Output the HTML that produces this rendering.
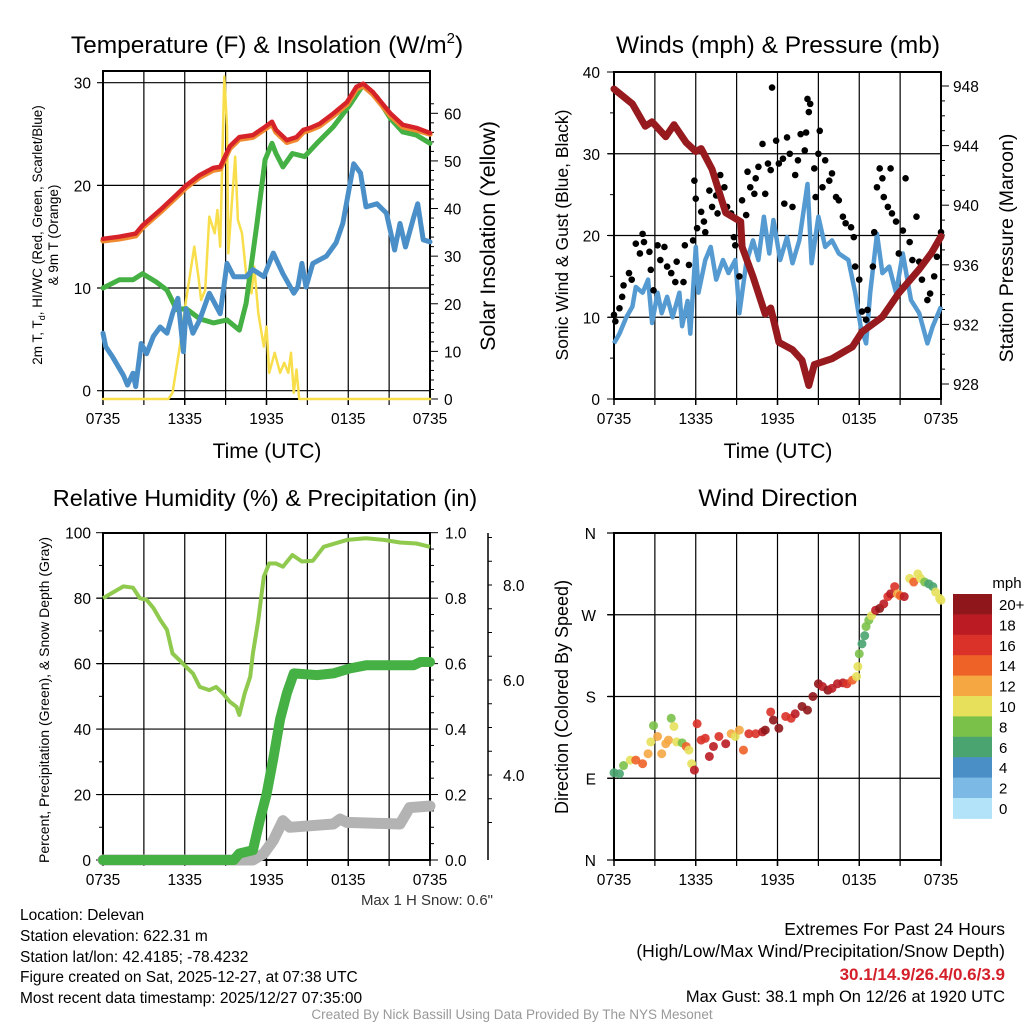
<!DOCTYPE html>
<html><head><meta charset="utf-8">
<style>
html,body{margin:0;padding:0;background:#fff;}
body{width:1024px;height:1024px;overflow:hidden;font-family:"Liberation Sans",sans-serif;}
svg text{font-family:"Liberation Sans",sans-serif;fill:#000;}
</style></head>
<body>
<svg id="chart" width="1024" height="1024" viewBox="0 0 1024 1024" xmlns="http://www.w3.org/2000/svg">
<g id="p1"></g>
<g id="p2"></g>
<g id="p3"></g>
<g id="p4"></g>
<g id="info">
<text x="20" y="920" font-size="15.5">Location: Delevan</text>
<text x="20" y="941" font-size="15.5">Station elevation: 622.31 m</text>
<text x="20" y="962" font-size="15.5">Station lat/lon: 42.4185; -78.4232</text>
<text x="20" y="982" font-size="15.5">Figure created on Sat, 2025-12-27, at 07:38 UTC</text>
<text x="20" y="1003" font-size="15.5">Most recent data timestamp: 2025/12/27 07:35:00</text>
<text x="1005" y="935" font-size="17.5" text-anchor="end">Extremes For Past 24 Hours</text>
<text x="1005" y="957" font-size="17.5" text-anchor="end">(High/Low/Max Wind/Precipitation/Snow Depth)</text>
<text x="1005" y="980" font-size="17" font-weight="bold" text-anchor="end" style="fill:#d4202a">30.1/14.9/26.4/0.6/3.9</text>
<text x="1005" y="1002" font-size="16.5" text-anchor="end">Max Gust: 38.1 mph On 12/26 at 1920 UTC</text>
<text x="512" y="1019" font-size="13.5" text-anchor="middle" style="fill:#999">Created By Nick Bassill Using Data Provided By The NYS Mesonet</text>
<text x="493" y="905" font-size="15" text-anchor="end" style="fill:#333">Max 1 H Snow: 0.6"</text>
</g>
</svg>
<script>
// ---------- data ----------
const xTickLabels = ["0735","1335","1935","0135","0735"];
// Panel 1
const tT = [0,1.2,2.4,2.9,4.2,5.4,6.1,7.1,8.1,8.6,9.3,10,11,11.9,12.4,12.7,13.5,14.2,14.7,15.2,15.9,16.9,17.9,18.6,19.1,19.8,21.1,22,23,24];
const tempV = [14.8,15,15.3,16.1,17.6,19.1,20,21,21.7,21.8,23.8,24.7,24.9,25.7,26.2,25.4,24.4,24.7,25.4,25.6,26,27,28.1,29.6,29.9,29.1,27,25.9,25.6,25.1];
const temp9V = [14.6,14.8,15.1,15.9,17.4,18.9,19.8,20.8,21.5,21.6,23.6,24.5,24.7,25.5,26,25.2,24.2,24.5,25.2,25.4,25.8,26.8,27.9,29.4,29.7,28.9,26.8,25.7,25.4,25];
const tHW = [0,1.2,2.2,2.9,3.9,4.7,5.4,6.1,7.1,8.1,9.1,10,10.5,11.3,11.9,12.4,12.7,13.2,13.9,14.8,15.7,16.9,18.1,19.1,20.1,21.1,22,23,24];
const hiwcV = [10,10.8,10.8,11.4,10.6,9.8,7.9,8,7,6.6,6.9,5.9,8.5,16.3,22.5,24.1,23.1,21.8,23.1,22.8,24.1,25.7,27.8,29.8,28.6,26.5,25.2,24.9,24.1];
const tTd = [0,0.2,0.7,1.5,1.8,2.2,2.4,2.8,3.2,3.7,4.2,4.7,5.1,5.5,5.9,6.1,6.6,7.1,7.8,8.6,9.1,9.6,10.5,11,11.8,12.5,13.2,14,14.3,14.6,14.9,15.4,16.4,17.1,17.6,18.4,18.9,19.3,20.1,20.8,21.4,21.8,22.2,22.8,23.1,23.5,24];
const dewV = [5.6,4.3,3.3,1.5,0.55,1.7,0.4,4.6,3.6,5.3,6.2,5.6,7.5,9,3.8,8,5.6,6.9,9.5,7.5,12.4,11.1,11.1,11.8,11.1,13.4,11.4,9.5,10.1,12.4,10.1,12.4,13.1,14.4,16.3,22.1,21.2,17.9,18.2,17.3,13.7,16.3,14,16.9,18.2,14.7,14.5];
const tSol = [0,4.8,5.1,5.6,6.1,6.4,6.7,7,7.2,7.5,7.8,8.2,8.4,8.6,8.9,9.1,9.2,9.4,9.7,9.9,10.2,10.5,10.9,11.1,11.4,11.8,12,12.2,12.6,13,13.3,13.6,13.8,14,14.2,14.4,24];
const solarV = [0,0,1.3,10.3,20.8,26.4,32,25.7,20.8,22.9,38.3,34.8,39.7,32,67.7,57.2,30.6,39,50.9,37.6,34.8,26.4,22.2,27.8,18,11,15.2,5.5,9.7,5.5,7.6,5.5,9.7,1.3,6.2,0,0];
// Panel 2
const tP = [0,1.35,2.3,2.8,3.8,4.4,5.3,6,6.4,7.2,8.2,9.3,9.4,10.2,11.1,11.5,12.1,13.1,13.8,14.3,14.7,16,17.5,18.2,19.7,20.9,22.4,23.3,24];
const presV = [947.8,946.8,945.3,945.6,944.6,945.4,944.2,943.6,943.8,942.4,939.5,938.9,937.2,935.2,932.7,933.1,930.8,930.3,929.6,927.9,929.3,929.7,930.5,931.5,932.5,934.1,935.7,936.8,937.9];
const tW = [0,0.4,0.9,1.35,1.6,2.1,2.5,2.8,3.2,3.5,3.9,4.3,4.8,5,5.4,5.6,6,6.2,6.7,7.1,7.5,8,8.4,8.9,9.2,9.7,10.2,10.6,11,11.4,11.7,12.2,12.7,13.1,13.6,14.2,14.5,15,15.5,16,16.5,17.2,17.7,18.1,18.5,18.8,19.3,19.7,20.2,20.7,21.2,21.8,22.4,23,23.4,24];
const windV = [6.8,8,10,11.3,13.7,13,14.6,9.3,13,10.5,12.5,10,13,8.9,12,8,18.6,13,17,18.6,14.6,17,15.4,17,10.5,16.6,19.4,17,22.3,17.8,21.9,17,19.8,16.6,19.4,26.3,16.6,22.3,18.6,19.4,17.8,17,13,8.9,6.8,13,20.2,15.4,16.2,13,17.8,12.1,10.5,6.8,8.9,11.3];
const tG = [0,0.1,0.4,0.6,0.7,1.1,1.3,1.6,2.1,1.9,2.2,2.6,2.7,2.9,3.2,3.4,3.7,3.9,4.2,4.5,4.6,5.1,5.2,5.5,5.8,5.9,6,6.1,6.4,6.6,6.7,7,7.2,7.5,7.6,7.8,8.1,8.3,8.6,8.8,8.9,9.2,9.4,9.7,9.8,10,10.3,10.4,10.6,10.9,11.1,11.3,11.5,11.6,11.9,12.1,12.4,12.5,12.7,12.9,13.1,13.3,13.5,13.7,14,14.1,14.2,14.3,14.4,14.7,14.8,15,15.1,15.3,15.5,15.8,16,16.3,16.5,16.8,17,17.4,17.6,17.7,18,18.2,18.5,18.6,19,19.1,19.3,19.5,19.7,19.8,20.1,20.3,20.4,20.7,20.9,21.2,21.4,21.7,21.9,22.2,22.4,22.6,23,23.2,23.5,23.7,24];
const gustV = [10.3,9.5,11.1,12.5,13.9,15.4,14.6,19,20.2,17.8,19.2,18,15.8,13.3,18.8,17,18.6,16.2,15.4,14.3,16.8,14.3,18.8,16.4,19.4,26.7,24.5,20.9,22.9,21.7,20.4,25.5,23.5,24.9,22.7,27.4,25.9,23.5,22.7,19.8,18.8,15,24.3,22.5,27.8,25.9,25.1,27,28.4,31.2,25.1,28.8,28,38.1,31.6,28.8,29.4,23.9,32,30,23.5,27.4,29.2,32.4,30.4,32.6,36.7,35.1,36.1,28.2,24.7,30,32.8,25.9,29.2,26.7,27.6,24.7,24.3,22.3,21.5,21,19.8,16.2,14.6,10.7,9.7,10.9,16.2,20.4,25.9,28.2,27,24.7,23.5,28.2,22.7,21.7,17.8,20.6,27,19.2,17,22.3,16.8,14.6,12.1,12.9,15,17.4,20.4];
// Panel 3
const tRH = [0,1.5,2.2,2.7,3.2,3.7,4.2,4.7,5.1,5.6,6.1,6.6,7.1,7.8,8.3,8.8,9.3,9.8,10,10.4,10.8,11,11.4,11.8,12.2,12.7,13.2,13.9,14.6,15.4,16.2,17.9,19.3,20.6,21.8,23,24];
const rhV = [80,83.6,83.2,80,79.5,77,73.4,70.3,63.1,61.1,59,57,52.9,51.9,52.9,50.9,48.4,46.8,44.3,50.9,56,63.1,73.3,86.6,90.6,90.6,89.6,93.2,91.2,91.4,95.7,97.8,98.3,97.8,97,96.7,95.7];
const tPr = [0,9.6,10,11,11.5,12,12.5,13,13.5,14,15.7,16.9,18.1,19.3,22.8,23.3,24];
const precipV = [0,0,0.02,0.03,0.12,0.2,0.31,0.43,0.51,0.57,0.565,0.57,0.585,0.595,0.595,0.605,0.605];
const tSn = [0,11,11.8,12.5,13.2,13.7,16.9,17.4,17.9,21.8,22.5,24];
const snowV = [0,0,2,6,12,10,11,12.5,11.5,11,16,16.5];
// Panel 4
const tD = [0,0.4,0.7,1.2,1.6,2.1,2.5,2.7,2.9,3.2,3.5,3.8,4,4.2,4.4,4.6,5,5.3,5.5,5.7,5.9,6.1,6.4,6.7,7,7.3,7.7,8.2,8.6,8.9,9.2,9.5,9.9,10.4,10.9,11.1,11.5,11.7,12.1,12.6,13,13.3,13.8,14.2,14.6,15,15.3,15.7,16,16.4,16.8,17.1,17.5,17.8,17.9,18,18.2,18.4,18.5,18.7,18.9,19.2,19.5,19.8,20.1,20.3,20.6,20.8,21,21.3,21.7,22,22.3,22.5,22.8,23.1,23.4,23.6,23.9,24];
const dirV = [96,95,104,110,110,106,117,130,148,136,117,128,132,156,147,130,129,125,121,106,99,150,132,134,114,125,136,128,139,136,143,121,139,139,141,143,163,154,145,158,156,161,169,165,180,194,191,187,189,194,195,194,198,202,213,227,238,247,257,264,269,275,277,282,290,293,301,293,291,290,310,306,315,310,306,304,301,295,288,286];
const spdV = [6,7,8,10,14,14,13,11,8,12,12,12,12,8,10,11,8,15,10,10,18,17,17,17,18,18,17,18,12,10,12,15,17,17,19,20,17,20,20,17,17,18,20,20,20,20,18,20,18,18,18,16,14,10,10,8,7,6,8,8,10,18,20,18,16,18,16,12,14,18,10,14,10,10,8,6,7,10,10,10];
const speedLabels = ["20+","18","16","14","12","10","8","6","4","2","0"];
const speedColors = ["#8f161a","#bb1c24","#da3228","#ee6228","#f5a742","#e6e05a","#7ac14a","#4aa470","#4a8fc5","#7cb9e4","#b3e3f8"];
const pTicks = [928,932,936,940,944,948];
const dirLabels = ["N","E","S","W","N"];

// ---------- helpers ----------
const NS="http://www.w3.org/2000/svg";
const TICK=15.5;
function mk(parent,tag,attrs){const e=document.createElementNS(NS,tag);for(const k in attrs)e.setAttribute(k,attrs[k]);parent.appendChild(e);return e;}
function txt(parent,x,y,s,size,anchor,extra){const e=mk(parent,'text',Object.assign({x:x,y:y,'font-size':size,'text-anchor':anchor||'middle'},extra||{}));e.textContent=s;return e;}
function lin(x0,x1,d0,d1){return v=>x0+(v-d0)*(x1-x0)/(d1-d0);}
function pathD(ts,vs,sx,sy){return ts.map((t,i)=>(i?'L':'M')+sx(t).toFixed(1)+' '+sy(vs[i]).toFixed(1)).join(' ');}
function frame(g,L,R,T,B,hGrid,sx){
  for(let h=3;h<24;h+=3){const l=mk(g,'line',{x1:sx(h),x2:sx(h),y1:T,y2:B+6,stroke:'#000','stroke-width':1.2});
    
    }
  hGrid.forEach(y=>{const l=mk(g,'line',{x1:L-6,x2:R,y1:y,y2:y,stroke:'#000','stroke-width':1.2});
    
    });
  const r=mk(g,'rect',{x:L,y:T,width:R-L,height:B-T,fill:'none',stroke:'#000','stroke-width':2});
  
  
  xTickLabels.forEach((s,i)=>{const t=txt(g,sx(i*6),B+25,s,TICK);
    
    
    mk(g,'line',{x1:sx(i*6),x2:sx(i*6),y1:B,y2:B+6,stroke:'#000','stroke-width':1.5});});
}

// ---------- Panel 1 ----------
(function(){
  const g=document.getElementById('p1');
  const L=103,R=430,T=71,B=399;
  const sx=lin(L,R,0,24), sy=lin(390.7,82.7,0,30), sr=lin(399,113.3,0,60);
  frame(g,L,R,T,B,[0,10,20,30].map(sy),sx);
  [0,10,20,30].forEach(v=>{const t=txt(g,L-12,sy(v)+6,String(v),TICK,'end');
    
    });
  for(let v=0;v<=62;v+=2){mk(g,'line',{x1:R,x2:R+(v%10?4:8),y1:sr(v),y2:sr(v),stroke:'#000','stroke-width':1});}
  [0,10,20,30,40,50,60].forEach(v=>{const t=txt(g,R+14,sr(v)+6,String(v),TICK,'start');
    
    });
  const series=[[tSol,solarV,sr,'#f8de4a',2.5,'solar-line'],[tHW,hiwcV,sy,'#45b043',5,'hiwc-line'],[tTd,dewV,sy,'#4a8fc8',5,'dewpoint-line'],[tT,temp9V,sy,'#f08a30',5.5,'temp-9m-line'],[tT,tempV,sy,'#d6232a',4.5,'temp-2m-line']];
  series.forEach(s=>{const p=mk(g,'path',{d:pathD(s[0],s[1],sx,s[2]),fill:'none',stroke:s[3],'stroke-width':s[4],'stroke-linejoin':'round','stroke-linecap':'round'});
    
    });
  const t1=txt(g,267,53,'Temperature (F) & Insolation (W/m',24.5);
  
  
  mk(t1,'tspan',{'font-size':15,dy:-10}).textContent='2';
  mk(t1,'tspan',{dy:10}).textContent=')';
  const xt=txt(g,267,458,'Time (UTC)',21);
  
  
  const y1=txt(g,0,0,'2m T, T',13.5,'middle',{transform:'translate(42,235) rotate(-90)'});
  
  
  mk(y1,'tspan',{'font-size':9,dy:3}).textContent='d';
  mk(y1,'tspan',{dy:-3}).textContent=', HI/WC (Red, Green, Scarlet/Blue)';
  const y2=txt(g,0,0,'& 9m T (Orange)',13.5,'middle',{transform:'translate(58,235) rotate(-90)'});
  
  
  const y3=txt(g,0,0,'Solar Insolation (Yellow)',21.5,'middle',{transform:'translate(495,236) rotate(-90)'});
  
  
})();

// ---------- Panel 2 ----------
(function(){
  const g=document.getElementById('p2');
  const L=614,R=941,T=72,B=399;
  const sx=lin(L,R,0,24), sy=lin(399,72,0,40), sp=lin(384,86,928,948);
  frame(g,L,R,T,B,[10,20,30].map(sy),sx);
  for(let v=0;v<=40;v+=5){mk(g,'line',{x1:L-(v%10?4:7),x2:L,y1:sy(v),y2:sy(v),stroke:'#000','stroke-width':1});}
  [0,10,20,30,40].forEach(v=>{const t=txt(g,L-14,sy(v)+6,String(v),TICK,'end');
    
    });
  for(let v=928;v<=948;v++){mk(g,'line',{x1:R,x2:R+(v%4?4:8),y1:sp(v),y2:sp(v),stroke:'#000','stroke-width':1});}
  pTicks.forEach(v=>{const t=txt(g,R+12,sp(v)+6,String(v),TICK,'start');
    
    });
  const w=mk(g,'path',{d:pathD(tW,windV,sx,sy),fill:'none',stroke:'#559bd2','stroke-width':4.5,'stroke-linejoin':'round'});
  
  
  tG.forEach((t,i)=>{const c=mk(g,'circle',{cx:sx(t),cy:sy(gustV[i]),r:3.3,fill:'#000'});
    
    });
  const p=mk(g,'path',{d:pathD(tP,presV,sx,sp),fill:'none',stroke:'#961a1e','stroke-width':7,'stroke-linejoin':'round','stroke-linecap':'round'});
  
  
  const t1=txt(g,778,53,'Winds (mph) & Pressure (mb)',24.5);
  
  
  const xt=txt(g,778,458,'Time (UTC)',21);
  
  
  const y1=txt(g,0,0,'Sonic Wind & Gust (Blue, Black)',17.5,'middle',{transform:'translate(568,235) rotate(-90)'});
  
  
  const y2=txt(g,0,0,'Station Pressure (Maroon)',19.5,'middle',{transform:'translate(1013,248) rotate(-90)'});
  
  
})();

// ---------- Panel 3 ----------
(function(){
  const g=document.getElementById('p3');
  const L=103,R=430,T=533,B=860;
  const sx=lin(L,R,0,24), sy=lin(860,532.7,0,100), sr=lin(860,532.7,0,1), ss=lin(965,585,0,8);
  frame(g,L,R,T,B,[20,40,60,80].map(sy),sx);
  for(let v=0;v<=100;v+=10){mk(g,'line',{x1:L-(v%20?4:7),x2:L,y1:sy(v),y2:sy(v),stroke:'#000','stroke-width':1});}
  [0,20,40,60,80,100].forEach(v=>{const t=txt(g,L-12,sy(v)+6,String(v),TICK,'end');
    
    });
  for(let v=0;v<=1.001;v+=0.05){mk(g,'line',{x1:R,x2:R+(Math.round(v*100)%20?4:8),y1:sr(v),y2:sr(v),stroke:'#000','stroke-width':1});}
  [0,0.2,0.4,0.6,0.8,1.0].forEach(v=>{const t=txt(g,R+15,sr(v)+6,v.toFixed(1),TICK,'start');
    
    });
  const ax=mk(g,'line',{x1:488,x2:488,y1:533,y2:860,stroke:'#000','stroke-width':1.5});
  
  
  for(let v=3;v<=9;v+=0.5){const y=ss(v);if(y>=533&&y<=860)mk(g,'line',{x1:488,x2:492,y1:y,y2:y,stroke:'#000','stroke-width':1});}
  [4,6,8].forEach(v=>{const t=txt(g,503,ss(v)+6,v.toFixed(1),TICK,'start');
    
    });
  const sn=mk(g,'path',{d:pathD(tSn,snowV,sx,sy),fill:'none',stroke:'#b3b3b3','stroke-width':11,'stroke-linejoin':'round','stroke-linecap':'round'});
  
  
  const pr=mk(g,'path',{d:pathD(tPr,precipV,sx,sr),fill:'none',stroke:'#45b043','stroke-width':10,'stroke-linejoin':'round','stroke-linecap':'round'});
  
  
  const rh=mk(g,'path',{d:pathD(tRH,rhV,sx,sy),fill:'none',stroke:'#8fca4e','stroke-width':4,'stroke-linejoin':'round'});
  
  
  const t1=txt(g,265,506,'Relative Humidity (%) & Precipitation (in)',23.5);
  
  
  const y1=txt(g,0,0,'Percent, Precipitation (Green), & Snow Depth (Gray)',14,'middle',{transform:'translate(49,700) rotate(-90)'});
  
  
})();

// ---------- Panel 4 ----------
(function(){
  const g=document.getElementById('p4');
  const L=614,R=941,T=533,B=860;
  const sx=lin(L,R,0,24), sy=lin(860,533,0,360);
  frame(g,L,R,T,B,[90,180,270].map(sy),sx);
  dirLabels.forEach((s,i)=>{mk(g,'line',{x1:L-7,x2:L,y1:sy(i*90),y2:sy(i*90),stroke:'#000','stroke-width':1.2});
    const t=txt(g,L-18,sy(i*90)+6,s,TICK,'end');
    
    });
  tD.forEach((t,i)=>{const k=Math.max(0,10-Math.min(10,Math.floor(spdV[i]/2)));
    const c=mk(g,'circle',{cx:sx(t),cy:sy(dirV[i]),r:4.5,fill:speedColors[k],'fill-opacity':0.9});
    
    });
  const t1=txt(g,778,506,'Wind Direction',24.5);
  
  
  const y1=txt(g,0,0,'Direction (Colored By Speed)',18,'middle',{transform:'translate(568,697) rotate(-90)'});
  
  
  const u=txt(g,1007,588,'mph',15);
  
  
  speedLabels.forEach((s,i)=>{const y=594+i*20.4;
    const r=mk(g,'rect',{x:953,y:y,width:39,height:20.9,fill:speedColors[i]});
    
    
    const t=txt(g,999,y+16,s,15,'start');
    
    });
})();
</script>
</body></html>
